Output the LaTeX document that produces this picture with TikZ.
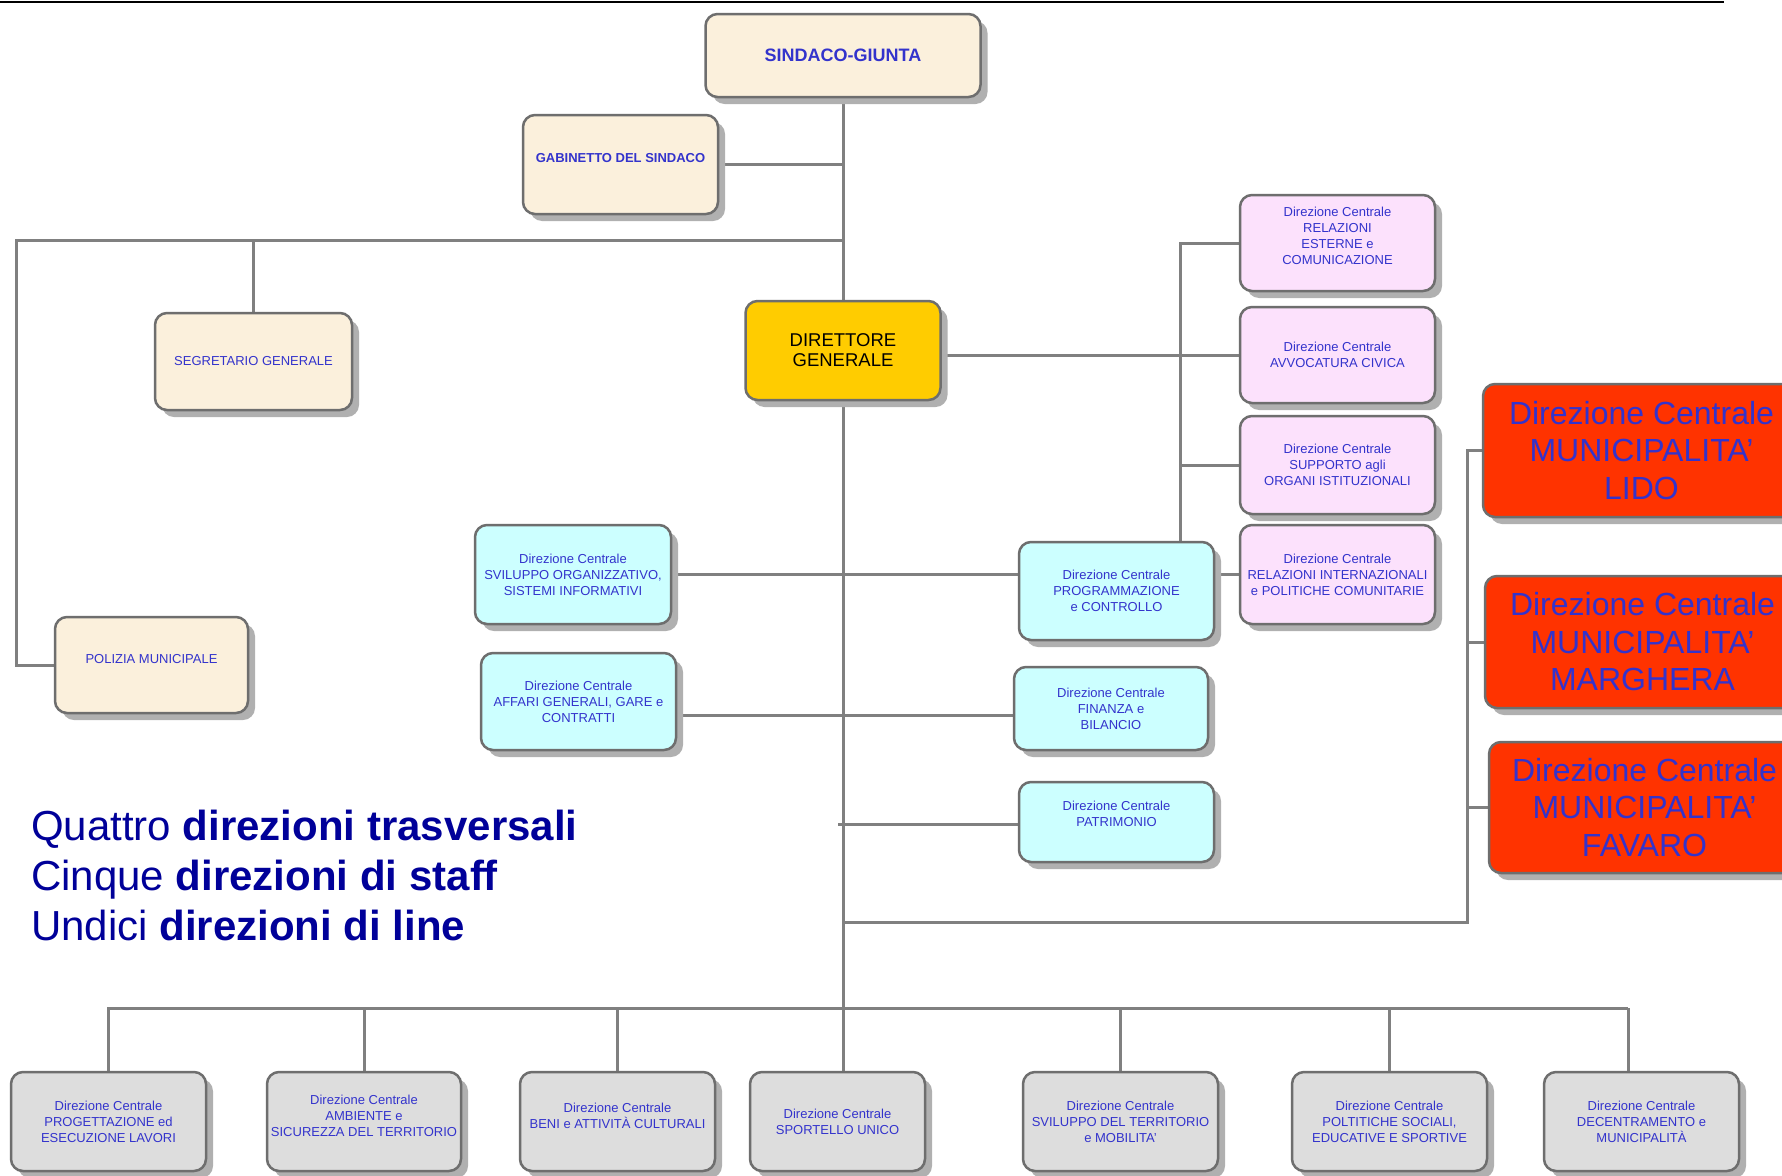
\documentclass[tikz,border=0pt]{standalone}
\usepackage{fontspec}
\setmainfont{Liberation Sans}
\usetikzlibrary{shadows,backgrounds}
\definecolor{tblue}{HTML}{3333CC}
\definecolor{navy}{HTML}{000099}
\definecolor{lgray}{HTML}{808080}
\definecolor{bgray}{HTML}{6E6E6E}
\definecolor{sgray}{HTML}{B0B0B0}
\definecolor{cream}{HTML}{FBF0DC}
\definecolor{pinkf}{HTML}{FCE1FC}
\definecolor{cyanf}{HTML}{CCFFFF}
\definecolor{grayf}{HTML}{DDDDDD}
\definecolor{goldf}{HTML}{FFCC00}
\definecolor{redf}{HTML}{FF3300}
\newcommand{\myfs}[2]{\fontsize{#1}{#2}\selectfont}
\tikzset{
  conn/.style={draw=lgray, line width=3pt},
  org/.style={rounded corners=12pt, draw=bgray, line width=2.5pt, align=center,
    text=tblue, inner sep=1pt, font=\myfs{13}{16},
    drop shadow={shadow xshift=7pt, shadow yshift=-7pt, fill=sgray, opacity=1}},
  wbox/.style={org, minimum width=195pt},
  redbox/.style={org, fill=redf, font=\myfs{32}{37.5}},
  legend/.style={anchor=base west, text=navy, font=\myfs{42}{50}, inner sep=0pt}
}
\begin{document}
\begin{tikzpicture}[x=1pt,y=-1pt]
\useasboundingbox (0,0) rectangle (1782,1175);
\draw[line width=2.5pt] (0,2) -- (1724,2);

% junction coordinates
\coordinate (jl) at (843,240);
\coordinate (lc) at (16,240);
\coordinate (pv) at (1180,243);
\coordinate (af) at (843,715);
\coordinate (pa) at (838,824);
\coordinate (rb) at (843,922);
\coordinate (rv) at (1467,922);
\coordinate (bl) at (107,1008);
\coordinate (br) at (1628,1008);

% boxes
\node[org, fill=cream, minimum width=275pt, minimum height=83pt, font=\bfseries\myfs{18}{22}] (sind) at (843,55.5) {SINDACO-GIUNTA};
\node[wbox, fill=cream, minimum height=99pt, font=\bfseries\myfs{13}{16}] (gab) at (620.5,164.5) {GABINETTO DEL SINDACO\\[-2pt]};
\node[org, fill=cream, minimum width=197pt, minimum height=97pt] (seg) at (253.5,361.5) {SEGRETARIO GENERALE};
\node[org, fill=cream, minimum width=193pt, minimum height=96pt] (pol) at (151.5,665) {POLIZIA MUNICIPALE\\[-3pt]};
\node[wbox, fill=goldf, minimum height=99pt, text=black, font=\myfs{18.5}{20}] (dir) at (843,350.5) {DIRETTORE\\GENERALE};

\node[wbox, fill=pinkf, minimum height=96pt] (p1) at (1337.5,243) {Direzione Centrale\\RELAZIONI\\ESTERNE e\\COMUNICAZIONE\\[-2pt]};
\node[wbox, fill=pinkf, minimum height=96pt] (p2) at (1337.5,355) {Direzione Centrale\\AVVOCATURA CIVICA};
\node[wbox, fill=pinkf, minimum height=98pt] (p3) at (1337.5,465) {Direzione Centrale\\SUPPORTO agli\\ORGANI ISTITUZIONALI};
\node[wbox, fill=pinkf, minimum height=99pt] (p4) at (1337.5,574.5) {Direzione Centrale\\RELAZIONI INTERNAZIONALI\\e POLITICHE COMUNITARIE};

\node[wbox, fill=cyanf, minimum height=98pt] (prog) at (1116.5,591) {Direzione Centrale\\PROGRAMMAZIONE\\e CONTROLLO};
\node[wbox, fill=cyanf, minimum width=196pt, minimum height=99pt] (svi) at (573,574.5) {Direzione Centrale\\SVILUPPO ORGANIZZATIVO,\\SISTEMI INFORMATIVI};
\node[wbox, fill=cyanf, minimum height=97pt] (aff) at (578.5,701.5) {Direzione Centrale\\AFFARI GENERALI, GARE e\\CONTRATTI};
\node[wbox, fill=cyanf, minimum width=194pt, minimum height=83pt] (fin) at (1111,708.5) {Direzione Centrale\\FINANZA e\\BILANCIO};
\node[wbox, fill=cyanf, minimum height=80pt] (pat) at (1116.5,822) {Direzione Centrale\\PATRIMONIO\\[0pt]};

\node[redbox, minimum width=317pt, minimum height=133pt] (lido) at (1641.5,450.5) {Direzione Centrale\\MUNICIPALITA’\\LIDO};
\node[redbox, minimum width=315pt, minimum height=132pt] (marg) at (1642.5,642) {Direzione Centrale\\MUNICIPALITA’\\MARGHERA};
\node[redbox, minimum width=311pt, minimum height=131pt] (fav) at (1644.5,807.5) {Direzione Centrale\\MUNICIPALITA’\\FAVARO};

\node[wbox, fill=grayf, minimum height=99pt] (b1) at (108.5,1121.5) {Direzione Centrale\\PROGETTAZIONE ed\\ESECUZIONE LAVORI};
\node[wbox, fill=grayf, minimum width=194pt, minimum height=99pt] (b2) at (364,1121.5) {Direzione Centrale\\AMBIENTE e\\SICUREZZA DEL TERRITORIO\\[-4.5pt]};
\node[wbox, fill=grayf, minimum height=99pt] (b3) at (617.5,1121.5) {Direzione Centrale\\BENI e ATTIVITÀ CULTURALI\\[-4.5pt]};
\node[wbox, fill=grayf, minimum width=175pt, minimum height=99pt] (b4) at (837.5,1121.5) {Direzione Centrale\\SPORTELLO UNICO};
\node[wbox, fill=grayf, minimum height=99pt] (b5) at (1120.5,1121.5) {Direzione Centrale\\SVILUPPO DEL TERRITORIO\\e MOBILITA’};
\node[wbox, fill=grayf, minimum height=99pt] (b6) at (1389.5,1121.5) {Direzione Centrale\\POLTITICHE SOCIALI,\\EDUCATIVE E SPORTIVE};
\node[wbox, fill=grayf, minimum height=99pt] (b7) at (1641.5,1121.5) {Direzione Centrale\\DECENTRAMENTO e\\MUNICIPALITÀ};

% legend
\node[legend] (l1) at (31,840) {Quattro \textbf{direzioni trasversali}};
\node[legend] (l2) at (31,890) {Cinque \textbf{direzioni di staff}};
\node[legend] (l3) at (31,940) {Undici \textbf{direzioni di line}};

% connectors (behind boxes)
\begin{pgfonlayer}{background}
\fill[white] (0,0) rectangle (1782,1175);
\draw[conn] (sind.south) -- (sind.south |- b4.north);
\draw[conn] (gab.east) -- (gab.east -| sind.south);
\draw[conn] (jl) -- (lc) |- (pol.west);
\draw[conn] (seg.north) -- (seg.north |- jl);
\draw[conn] (dir.east |- p2.west) -- (p2.west);
\draw[conn] (p1.west) -- (p1.west -| pv) -- (pv |- prog.north);
\draw[conn] (p3.west) -- (p3.west -| pv);
\draw[conn] (prog.east |- p4.west) -- (p4.west);
\draw[conn] (svi.east) -- (svi.east -| prog.west);
\draw[conn] (aff.east |- af) -- (fin.west |- af);
\draw[conn] (pa) -- (pat.west |- pa);
\draw[conn] (rb) -- (rv) -- (rv |- lido.west) -- (lido.west);
\draw[conn] (rv |- marg.west) -- (marg.west);
\draw[conn] (rv |- fav.west) -- (fav.west);
\draw[conn] (bl) -- (br);
\draw[conn] (b1.north) -- (b1.north |- bl);
\draw[conn] (b2.north) -- (b2.north |- bl);
\draw[conn] (b3.north) -- (b3.north |- bl);
\draw[conn] (b5.north) -- (b5.north |- bl);
\draw[conn] (b6.north) -- (b6.north |- bl);
\draw[conn] (br) -- (br |- b7.north);
\end{pgfonlayer}
\end{tikzpicture}
\end{document}
